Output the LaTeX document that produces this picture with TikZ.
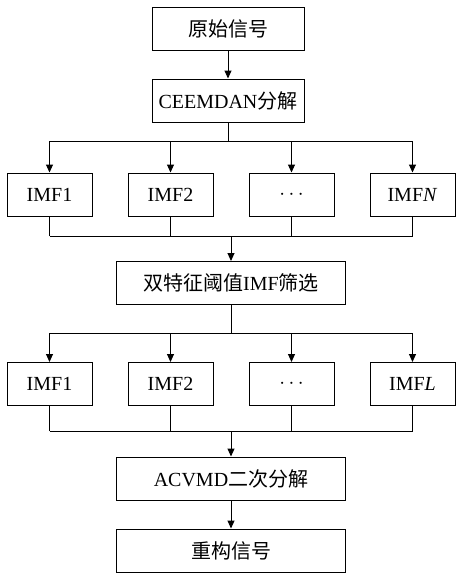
\documentclass[tikz,border=0pt]{standalone}
\usepackage{fontspec}
\setmainfont{Liberation Serif}
\newfontfamily\cjk{Noto Sans CJK SC}
\usetikzlibrary{arrows.meta}
\begin{document}
\begin{tikzpicture}[x=1pt,y=-1pt,line width=1pt,
    >={Triangle[length=8pt,width=7pt]}]

      \useasboundingbox (0,0) rectangle (462,576);

      \begin{scope}[every node/.style={draw,inner sep=0pt,minimum height=43pt,
          font=\fontsize{20}{24}\selectfont}]
        \node[minimum width=152pt] (orig)   at (228,28.5)  {\cjk 原始信号};
        \node[minimum width=152pt] (ceem)   at (228,100.5) {CEEMDAN{\cjk 分解}};
        \node[minimum width=229pt] (sel)    at (231,283)   {{\cjk 双特征阈值}IMF{\cjk 筛选}};
        \node[minimum width=229pt] (acvmd)  at (231,478.5) {ACVMD{\cjk 二次分解}};
        \node[minimum width=229pt] (recon)  at (231,550.5) {\cjk 重构信号};
      \end{scope}

      \begin{scope}[every node/.style={draw,inner sep=0pt,minimum height=43pt,
          minimum width=85pt,font=\fontsize{20}{24}\selectfont}]
        \node (a1) at (49.5,194.5)  {IMF1};
        \node (a2) at (170.5,194.5) {IMF2};
        \node (a3) at (291.5,194.5) {$\cdots$};
        \node (a4) at (412.5,194.5) {IMF\textit{N}};
        \node (b1) at (49.5,384)    {IMF1};
        \node (b2) at (170.5,384)   {IMF2};
        \node (b3) at (291.5,384)   {$\cdots$};
        \node (b4) at (412.5,384)   {IMF\textit{L}};
      \end{scope}

      \coordinate (busa) at (228,141);
      \coordinate (busb) at (231,236);
      \coordinate (busc) at (231,333);
      \coordinate (busd) at (231,431);

      \draw[->] (orig) -- (ceem);
      \draw (ceem) -- (busa);
      \draw (a1 |- busa) -- (a4 |- busa);
      \foreach \n in {a1,a2,a3,a4} {
        \draw[->] (\n |- busa) -- (\n);
        \draw (\n) -- (\n |- busb);
      }
      \draw (a1 |- busb) -- (a4 |- busb);
      \draw[->] (busb) -- (sel);

      \draw (sel) -- (busc);
      \draw (b1 |- busc) -- (b4 |- busc);
      \foreach \n in {b1,b2,b3,b4} {
        \draw[->] (\n |- busc) -- (\n);
        \draw (\n) -- (\n |- busd);
      }
      \draw (b1 |- busd) -- (b4 |- busd);
      \draw[->] (busd) -- (acvmd);
      \draw[->] (acvmd) -- (recon);

    \end{tikzpicture}
\end{document}
